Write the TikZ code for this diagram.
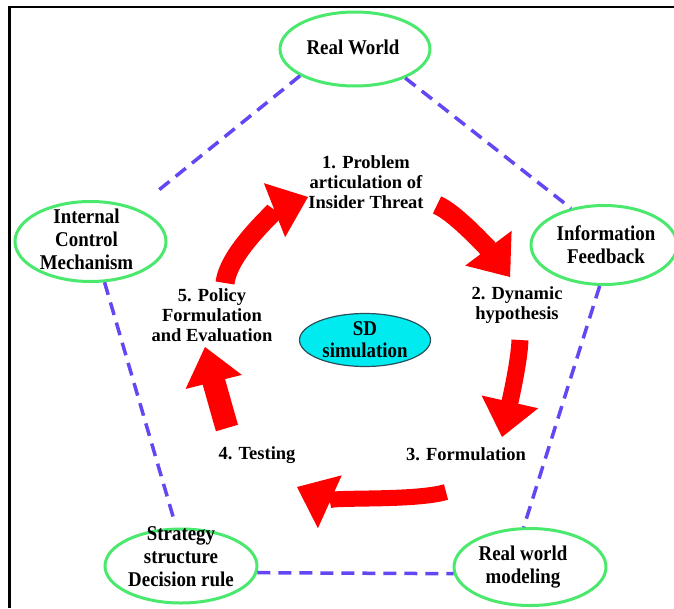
\documentclass[tikz,border=0pt]{standalone}
\usepackage{fontspec}
\setmainfont{Liberation Serif}
\newfontfamily\ringfont{Liberation Serif}[FakeStretch=0.9]
\usetikzlibrary{shapes.geometric,arrows.meta}
\definecolor{ringgreen}{RGB}{75,232,110}
\definecolor{dashblue}{RGB}{100,70,242}
\definecolor{arrowred}{RGB}{255,0,0}
\definecolor{sdcyan}{RGB}{0,235,240}
\definecolor{sdedge}{RGB}{40,80,90}
\begin{document}
\begin{tikzpicture}[x=1pt,y=-1pt,
  ring/.style={ellipse, draw=ringgreen, line width=3pt, inner sep=0pt},
  ringtext/.style={align=center, inner sep=0pt, font=\ringfont\fontsize{21}{23}\selectfont\bfseries},
  steplabel/.style={align=center, inner sep=0pt, font=\fontsize{18.5}{20}\selectfont\bfseries},
  sdtext/.style={align=center, inner sep=0pt, font=\ringfont\fontsize{21}{22}\selectfont\bfseries},
  link/.style={draw=dashblue, line width=3.5pt, dash pattern=on 13pt off 8pt},
  flow/.style={draw=arrowred, line width=19pt, -{Triangle[length=36pt,width=58pt,line width=0pt]}},
]
\useasboundingbox (0,0) rectangle (674,608);
% frame
\draw[line width=2.5pt] (9.5,608) -- (9.5,7) -- (674,7);

% outer ellipses
\node[ring, minimum width=150pt, minimum height=74pt,
  label={[ringtext, xshift=-2pt, yshift=2pt]center:Real World}] (rw) at (355,49) {};
\node[ring, minimum width=151pt, minimum height=80pt,
  label={[ringtext, xshift=-4pt, yshift=2pt]center:Internal\\Control\\Mechanism}] (icm) at (90.5,241.5) {};
\node[ring, minimum width=146pt, minimum height=79pt,
  label={[ringtext, xshift=2pt]center:Information\\Feedback}] (inf) at (604,245) {};
\node[ring, minimum width=152pt, minimum height=74pt,
  label={[ringtext, yshift=9pt]center:Strategy\\structure\\Decision rule}] (ssd) at (181,566) {};
\node[ring, minimum width=152pt, minimum height=77pt,
  label={[ringtext, xshift=-7pt]center:Real world\\modeling}] (rwm) at (530,567) {};

% centre
\node[ellipse, fill=sdcyan, draw=sdedge, line width=1.2pt, inner sep=0pt,
  minimum width=131pt, minimum height=53pt,
  label={[sdtext]center:SD\\simulation}] (sd) at (365,340) {};

% step labels
\node[steplabel] (s1) at (366,182) {1. Problem\\articulation of\\Insider Threat};
\node[steplabel] (s2) at (517,305) {2. Dynamic\\hypothesis};
\node[steplabel] (s3) at (466,454) {3. Formulation};
\node[steplabel] (s4) at (257,455) {4. Testing};
\node[steplabel] (s5) at (212,315) {5. Policy\\Formulation\\and Evaluation};

% dashed pentagon
\draw[link, shorten >=22pt] (rw.206.6) -- (icm.36.6);
\draw[link] (rw.330) -- (inf.132.4);
\draw[link, shorten >=11pt] (icm.289.3) -- (ssd.97);
\draw[link] (inf.264.3) -- (rwm.99);
\draw[link] (ssd.355) -- (rwm.185);

% red cycle arrows
\coordinate (a1) at (225,283); \coordinate (t1) at (308,197);
\coordinate (a2) at (437,205); \coordinate (t2) at (510,277);
\coordinate (a3) at (520,340); \coordinate (t3) at (502,437);
\coordinate (a4) at (446,492); \coordinate (t4) at (297,487);
\coordinate (a5) at (227,428); \coordinate (t5) at (205,347);
\draw[flow] (a1) .. controls (229,250) and (280,208) .. (t1);
\draw[flow] (a2) .. controls (457,213) and (495,257) .. (t2);
\draw[flow, line width=17pt] (a3) .. controls (519,365) and (507.5,412.6) .. (t3);
\draw[flow, line width=16pt] (a4) .. controls (412,502) and (317,496) .. (t4);
\draw[flow, line width=23pt] (a5) .. controls (222.7,413.6) and (211,371) .. (t5);
\end{tikzpicture}
\end{document}
